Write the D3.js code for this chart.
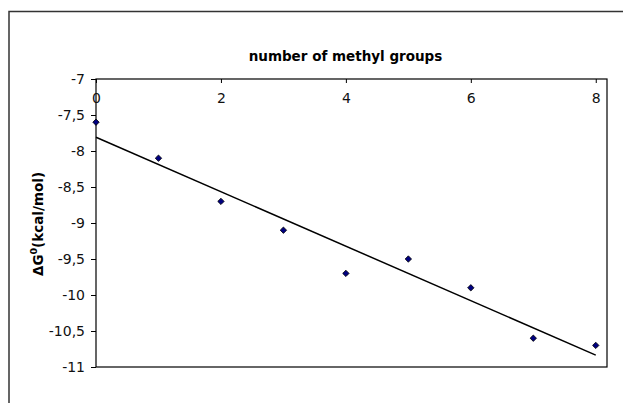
<!DOCTYPE html>
<html>
<head>
<meta charset="utf-8">
<script src="https://cdn.jsdelivr.net/npm/d3@7"></script>
<style>
  body { margin: 0; background: #fff; }
  text { font-family: "DejaVu Sans", Verdana, sans-serif; }
</style>
</head>
<body>
<div id="chart"></div>
<script>
// Data
const methylGroups = [0, 1, 2, 3, 4, 5, 6, 7, 8];
const deltaG = [-7.6, -8.1, -8.7, -9.1, -9.7, -9.5, -9.9, -10.6, -10.7];
const xTicks = [0, 2, 4, 6, 8];
const yTicks = [-7, -7.5, -8, -8.5, -9, -9.5, -10, -10.5, -11];

const W = 623, H = 403;
const margin = { top: 79, right: 16, bottom: 36, left: 96 };
const width = W - margin.left - margin.right,
      height = H - margin.top - margin.bottom;

const svg = d3.select("#chart")
  .append("svg")
    .attr("width", W)
    .attr("height", H);

// Outer chart border (runs off the right and bottom edges)
svg.append("rect")
  .attr("x", 9).attr("y", 11.5)
  .attr("width", W).attr("height", H)
  .attr("fill", "none")
  .attr("stroke", "#333")
  .attr("stroke-width", 1.5);

const g = svg.append("g")
  .attr("transform", `translate(${margin.left},${margin.top})`);

// Scales
const x = d3.scaleLinear().domain([0, 8.18]).range([0, width]);
const y = d3.scaleLinear().domain([-7, -11]).range([0, height]);

// Plot area frame
g.append("rect")
  .attr("width", width).attr("height", height)
  .attr("fill", "none")
  .attr("stroke", "#000")
  .attr("stroke-width", 1.2);

const fmt = d => String(d).replace(".", ",");

// Y axis (ticks outside, left)
const yAxis = g.append("g")
  .call(d3.axisLeft(y).tickValues(yTicks).tickSize(5).tickPadding(6).tickFormat(fmt));
yAxis.select(".domain").remove();
yAxis.selectAll("text").attr("font-size", 14).attr("fill", "#111")
  .style("font-family", '"DejaVu Sans", Verdana, sans-serif');

// X axis along the top (value -7), ticks and labels inside
const xAxis = g.append("g")
  .call(d3.axisBottom(x).tickValues(xTicks).tickSize(4).tickPadding(10).tickFormat(d3.format("d")));
xAxis.select(".domain").remove();
xAxis.selectAll("text").attr("font-size", 14).attr("fill", "#111")
  .style("font-family", '"DejaVu Sans", Verdana, sans-serif');

// Linear trendline (least squares fit of the data)
const mx = d3.mean(methylGroups), my = d3.mean(deltaG);
const slope = d3.sum(methylGroups, (v, i) => (v - mx) * (deltaG[i] - my)) /
              d3.sum(methylGroups, v => (v - mx) * (v - mx));
const intercept = my - slope * mx;
const xr = d3.extent(methylGroups);
g.append("path")
  .datum(xr)
  .attr("fill", "none")
  .attr("stroke", "#000")
  .attr("stroke-width", 1.5)
  .attr("d", d3.line().x(d => x(d)).y(d => y(intercept + slope * d)));

// Points: diamonds
g.selectAll(".pt")
  .data(methylGroups)
  .join("path")
    .attr("class", "pt")
    .attr("transform", (d, i) => `translate(${x(d)},${y(deltaG[i])})`)
    .attr("d", d3.symbol().type(d3.symbolDiamond2).size(26))
    .attr("fill", "#000080")
    .attr("stroke", "#000")
    .attr("stroke-width", 0.8);

// Title
svg.append("text")
  .attr("x", 345.5).attr("y", 61)
  .attr("text-anchor", "middle")
  .attr("font-size", 13.5)
  .attr("font-weight", "bold")
  .text("number of methyl groups");

// Y axis label
svg.append("text")
  .attr("transform", `translate(43,${margin.top + height / 2 + 1}) rotate(-90)`)
  .attr("text-anchor", "middle")
  .attr("font-size", 13.5)
  .attr("font-weight", "bold")
  .html("ΔG<tspan dy='-6' font-size='9.5'>0</tspan><tspan dy='6'>(kcal/mol)</tspan>");
</script>
</body>
</html>
